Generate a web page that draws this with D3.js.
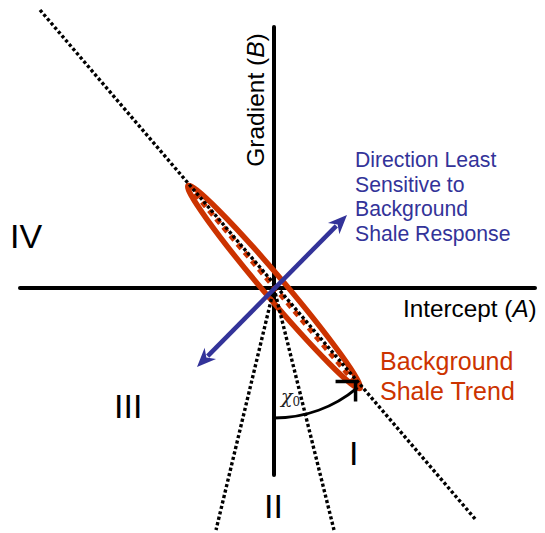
<!DOCTYPE html>
<html>
<head>
<meta charset="utf-8">
<script src="https://cdn.jsdelivr.net/npm/d3@7"></script>
<style>
  body { margin: 0; background: #fff; }
  svg { display: block; font-family: "Liberation Sans", Arial, sans-serif; }
</style>
</head>
<body>
<svg></svg>
<script>
// axis extents in (A, B) units, origin where the two axes cross
var axisA = [-2.54, 2.61];
var axisB = [-1.87, 2.61];

// background shale trend line (two end points)
var trendLine = [[-2.34, 2.78], [2.02, -2.32]];

// ellipse around the trend: centre, half length, half width, angle (deg)
var trendEllipse = {c: [0, 0.01], rx: 1.33, ry: 0.105, angle: -49.7};

// least sensitive direction (double arrow)
var blueArrow = [[-0.77, -0.79], [0.73, 0.73]];

// two dotted lines fanning down from the origin
var fanLines = [[-0.58, -2.42], [0.60, -2.42]];

// chi0 angle arc: radius, from angle 0 (straight down) to this angle
var chiArc = {r: 1.3, end: 40};

var quadrants = [
  {label: "IV",  A: -2.64, B: 0.40},
  {label: "III", A: -1.60, B: -1.30},
  {label: "I",   A: 0.75,  B: -1.77},
  {label: "II",  A: -0.10, B: -2.30}
];

var blueText = ["Direction Least", "Sensitive to", "Background", "Shale Response"];
var orangeText = ["Background", "Shale Trend"];

var width = 545, height = 533;
var svg = d3.select("svg").attr("width", width).attr("height", height);

var x = d3.scaleLinear().domain([-2.74, 2.71]).range([0, 545]);
var y = d3.scaleLinear().domain([2.88, -2.45]).range([0, 533]);
var unit = x(1) - x(0);

var orange = "#cc3300", blue = "#333399";

// axes
svg.append("line")
  .attr("x1", x(axisA[0])).attr("x2", x(axisA[1]))
  .attr("y1", y(0)).attr("y2", y(0))
  .attr("stroke", "#000").attr("stroke-width", 4).attr("stroke-linecap", "round");
svg.append("line")
  .attr("x1", x(0)).attr("x2", x(0))
  .attr("y1", y(axisB[1])).attr("y2", y(axisB[0]))
  .attr("stroke", "#000").attr("stroke-width", 4).attr("stroke-linecap", "round");

// ellipse
var eg = svg.append("g")
  .attr("transform", "translate(" + x(trendEllipse.c[0]) + "," + y(trendEllipse.c[1]) + ") rotate(" + (-trendEllipse.angle) + ")");
eg.append("ellipse")
  .attr("rx", trendEllipse.rx * unit).attr("ry", trendEllipse.ry * unit)
  .attr("fill", "none").attr("stroke", orange).attr("stroke-width", 5.5);
eg.append("line")
  .attr("x1", -trendEllipse.rx * unit * 0.92).attr("x2", trendEllipse.rx * unit * 0.92)
  .attr("y1", 0).attr("y2", 0)
  .attr("stroke", orange).attr("stroke-width", 5).attr("stroke-dasharray", "6,5");

// dotted lines
var dotted = [trendLine].concat(fanLines.map(function(p) { return [[0, 0], p]; }));
svg.selectAll("line.dot").data(dotted).enter().append("line")
  .attr("class", "dot")
  .attr("x1", function(d) { return x(d[0][0]); })
  .attr("y1", function(d) { return y(d[0][1]); })
  .attr("x2", function(d) { return x(d[1][0]); })
  .attr("y2", function(d) { return y(d[1][1]); })
  .attr("stroke", "#000").attr("stroke-width", 3.4).attr("stroke-dasharray", "3.2,2.4");

// chi0 arc
var a0 = Math.PI / 2, a1 = Math.PI / 2 - chiArc.end * Math.PI / 180;
var p = d3.path();
p.arc(x(0), y(0), chiArc.r * unit, a0, a1, true);
svg.append("path").attr("d", p.toString())
  .attr("fill", "none").attr("stroke", "#000").attr("stroke-width", 3);
var ex = x(0) + chiArc.r * unit * Math.cos(a1) - 2, ey = y(0) + chiArc.r * unit * Math.sin(a1) - 6;
svg.append("path")
  .attr("d", "M" + (ex - 20) + "," + ey + "L" + ex + "," + ey + "L" + ex + "," + (ey + 20))
  .attr("fill", "none").attr("stroke", "#000").attr("stroke-width", 3.5);

// blue double arrow
var bx0 = x(blueArrow[0][0]), by0 = y(blueArrow[0][1]), bx1 = x(blueArrow[1][0]), by1 = y(blueArrow[1][1]);
var ang = Math.atan2(by1 - by0, bx1 - bx0);
var head = 19, hw = 8;
svg.append("line")
  .attr("x1", bx0 + Math.cos(ang) * head * 0.8).attr("y1", by0 + Math.sin(ang) * head * 0.8)
  .attr("x2", bx1 - Math.cos(ang) * head * 0.8).attr("y2", by1 - Math.sin(ang) * head * 0.8)
  .attr("stroke", blue).attr("stroke-width", 4.5);
function arrowHead(tx, ty, a) {
  var bxp = tx - Math.cos(a) * head, byp = ty - Math.sin(a) * head;
  var nx = -Math.sin(a) * hw, ny = Math.cos(a) * hw;
  var ix = tx - Math.cos(a) * head * 0.7, iy = ty - Math.sin(a) * head * 0.7;
  return "M" + tx + "," + ty + "L" + (bxp + nx) + "," + (byp + ny) + "L" + ix + "," + iy + "L" + (bxp - nx) + "," + (byp - ny) + "Z";
}
svg.append("path").attr("d", arrowHead(bx1, by1, ang)).attr("fill", blue);
svg.append("path").attr("d", arrowHead(bx0, by0, ang + Math.PI)).attr("fill", blue);

// axis labels
var gl = svg.append("text")
  .attr("transform", "translate(" + x(-0.10) + "," + y(1.88) + ") rotate(-90)")
  .attr("text-anchor", "middle").attr("font-size", 24.5).attr("fill", "#000");
gl.append("tspan").text("Gradient (");
gl.append("tspan").attr("font-style", "italic").text("B");
gl.append("tspan").text(")");

var il = svg.append("text")
  .attr("x", x(1.29)).attr("y", y(-0.29))
  .attr("font-size", 24.3).attr("fill", "#000");
il.append("tspan").text("Intercept (");
il.append("tspan").attr("font-style", "italic").text("A");
il.append("tspan").text(")");

// quadrant labels
svg.selectAll("text.quad").data(quadrants).enter().append("text")
  .attr("class", "quad")
  .attr("x", function(d) { return x(d.A); })
  .attr("y", function(d) { return y(d.B); })
  .attr("font-size", 34).attr("fill", "#000")
  .text(function(d) { return d.label; });

// blue annotation
svg.append("text").attr("font-size", 21.2).attr("fill", blue)
  .selectAll("tspan").data(blueText).enter().append("tspan")
  .attr("x", x(0.81))
  .attr("y", function(d, i) { return y(1.21) + i * 24.5; })
  .text(function(d) { return d; });

// orange annotation
svg.append("text").attr("font-size", 25).attr("fill", orange)
  .selectAll("tspan").data(orangeText).enter().append("tspan")
  .attr("x", x(1.06))
  .attr("y", function(d, i) { return y(-0.82) + i * 30; })
  .text(function(d) { return d; });

// chi0 label
var chi = svg.append("text")
  .attr("x", x(0.07)).attr("y", y(-1.15))
  .attr("font-family", "'DejaVu Serif', 'Liberation Serif', serif")
  .attr("font-size", 19).attr("fill", "#222");
chi.append("tspan").attr("font-style", "italic").text("χ");
chi.append("tspan").attr("font-size", 12).attr("dy", 3).text("0");
</script>
</body>
</html>
